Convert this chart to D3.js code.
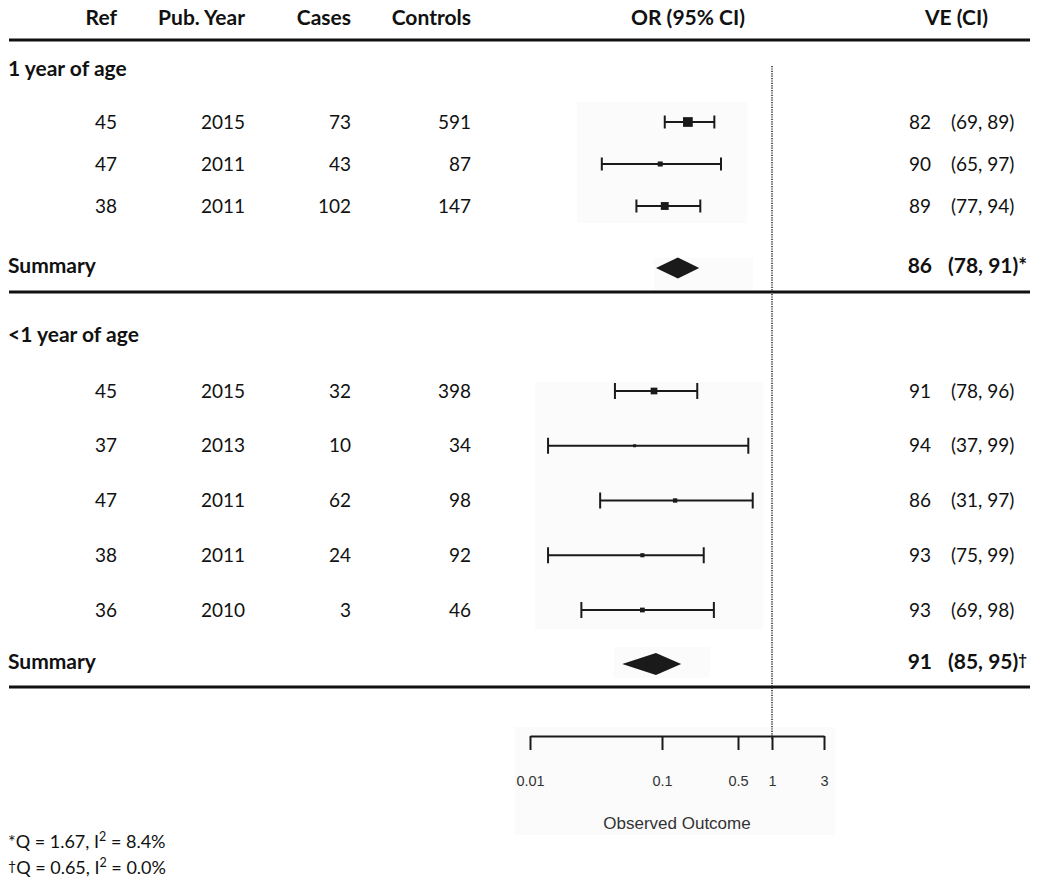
<!DOCTYPE html>
<html>
<head>
<meta charset="utf-8">
<script src="https://cdn.jsdelivr.net/npm/d3@7/dist/d3.min.js"></script>
<style>
  html, body { margin: 0; padding: 0; background: #ffffff; }
  svg { display: block; }
</style>
</head>
<body>
<svg id="chart" width="1050" height="887"></svg>
<script>
// ---------------- DATA ----------------
const headers = ["Ref", "Pub. Year", "Cases", "Controls", "OR (95% CI)", "VE (CI)"];
const groupLabels = ["1 year of age", "<1 year of age"];
const summaryLabel = "Summary";

// 1 year of age
const g1Ref = ["45", "47", "38"];
const g1Year = ["2015", "2011", "2011"];
const g1Cases = [73, 43, 102];
const g1Controls = [591, 87, 147];
const g1VE = [82, 90, 89];
const g1VELow = [69, 65, 77];
const g1VEHigh = [89, 97, 94];
const g1OR = [0.173, 0.097, 0.106];
const g1ORLow = [0.106, 0.035, 0.064];
const g1ORHigh = [0.303, 0.349, 0.225];
const g1Weight = [52, 14, 34];
const g1SumVE = [86, 78, 91];          // estimate, low, high
const g1SumOR = [0.14, 0.09, 0.22];    // estimate, low, high
const g1SumMark = "*";

// <1 year of age
const g2Ref = ["45", "37", "47", "38", "36"];
const g2Year = ["2015", "2013", "2011", "2011", "2010"];
const g2Cases = [32, 10, 62, 24, 3];
const g2Controls = [398, 34, 98, 92, 46];
const g2VE = [91, 94, 86, 93, 93];
const g2VELow = [78, 37, 31, 75, 69];
const g2VEHigh = [96, 99, 97, 99, 98];
const g2OR = [0.087, 0.062, 0.132, 0.071, 0.071];
const g2ORLow = [0.044, 0.0137, 0.034, 0.0137, 0.0245];
const g2ORHigh = [0.211, 0.617, 0.675, 0.242, 0.30];
const g2Weight = [40, 8, 17, 15, 20];
const g2SumVE = [91, 85, 95];
const g2SumOR = [0.09, 0.05, 0.15];
const g2SumMark = "\u2020";

// axis
const axisTicks = [0.01, 0.1, 0.5, 1, 3];
const axisTickLabels = ["0.01", "0.1", "0.5", "1", "3"];
const axisTitle = "Observed Outcome";

// footnotes
const footQ = ["1.67", "0.65"];
const footI2 = ["8.4%", "0.0%"];
const footMarks = ["*", "\u2020"];

// ---------------- LAYOUT ----------------
const svg = d3.select("#chart");
const FONT = 'Lato, "Open Sans", sans-serif';
const AXFONT = '"Liberation Sans", Arial, sans-serif';
const fs = 19;
const fsB = 21;

// x scale for OR (piecewise log, as in the reference axis)
const x = d3.scaleLog().domain(axisTicks).range([530, 662, 738, 772, 824]);

// column anchors (right-aligned)
const colX = { ref: 117, year: 245, cases: 351, controls: 471, ve: 931, ci: 951 };

// row scales
const y1 = d3.scaleLinear().domain([0, 2]).range([122, 206]);
const y2 = d3.scaleLinear().domain([0, 4]).range([391, 610]);
const y1Sum = 268, y2Sum = 664;

// size scales
const s1 = d3.scaleSqrt().domain([0, 100]).range([0, 13.5]);
const s2 = d3.scaleSqrt().domain([0, 100]).range([0, 10.6]);

// ---------- light panel backgrounds (pasted-plot look) ----------
const bgFill = "#fbfbfb";
[[577, 102, 170, 121], [654, 258, 99, 32], [535, 382, 228, 247], [614, 647, 96, 31], [515, 727, 320, 108]]
  .forEach(r => svg.append("rect").attr("x", r[0]).attr("y", r[1]).attr("width", r[2]).attr("height", r[3]).attr("fill", bgFill));

// ---------- headers ----------
const hdr = svg.append("g").attr("font-family", FONT).attr("font-weight", 700).attr("font-size", fsB).attr("fill", "#111");
const hdrBase = 25;
hdr.append("text").attr("x", colX.ref).attr("y", hdrBase).attr("text-anchor", "end").text(headers[0]);
hdr.append("text").attr("x", colX.year).attr("y", hdrBase).attr("text-anchor", "end").text(headers[1]);
hdr.append("text").attr("x", colX.cases).attr("y", hdrBase).attr("text-anchor", "end").text(headers[2]);
hdr.append("text").attr("x", colX.controls).attr("y", hdrBase).attr("text-anchor", "end").text(headers[3]);
hdr.append("text").attr("x", 688).attr("y", hdrBase).attr("text-anchor", "middle").text(headers[4]);
hdr.append("text").attr("x", 988).attr("y", hdrBase).attr("text-anchor", "end").text(headers[5]);

// ---------- horizontal rules ----------
[40, 292, 687].forEach(yy => svg.append("line").attr("x1", 9).attr("x2", 1030).attr("y1", yy).attr("y2", yy)
  .attr("stroke", "#111").attr("stroke-width", 3));

// ---------- group labels ----------
svg.append("text").attr("x", 8).attr("y", 76).attr("font-family", FONT).attr("font-weight", 700).attr("font-size", fsB).attr("fill", "#111").text(groupLabels[0]);
svg.append("text").attr("x", 8).attr("y", 342).attr("font-family", FONT).attr("font-weight", 700).attr("font-size", fsB).attr("fill", "#111").text(groupLabels[1]);

// ---------- reference line at OR = 1 ----------
svg.append("line").attr("x1", x(1)).attr("x2", x(1)).attr("y1", 66).attr("y2", 740)
  .attr("stroke", "#222").attr("stroke-width", 1.5).attr("stroke-dasharray", "1.2,1.2");

// ---------- row drawing ----------
function drawGroup(ref, year, cases, controls, ve, veL, veH, or, orL, orH, w, yS, sS, capH) {
  const idx = d3.range(ref.length);
  const g = svg.append("g");
  const tg = g.append("g").attr("font-family", FONT).attr("font-size", fs).attr("fill", "#111");
  idx.forEach(i => {
    const yy = yS(i) + 6.5;
    tg.append("text").attr("x", colX.ref).attr("y", yy).attr("text-anchor", "end").text(ref[i]);
    tg.append("text").attr("x", colX.year).attr("y", yy).attr("text-anchor", "end").text(year[i]);
    tg.append("text").attr("x", colX.cases).attr("y", yy).attr("text-anchor", "end").text(cases[i]);
    tg.append("text").attr("x", colX.controls).attr("y", yy).attr("text-anchor", "end").text(controls[i]);
    tg.append("text").attr("x", colX.ve).attr("y", yy).attr("text-anchor", "end").text(ve[i]);
    tg.append("text").attr("x", colX.ci).attr("y", yy).attr("text-anchor", "start").text("(" + veL[i] + ", " + veH[i] + ")");
  });
  const pg = g.append("g").attr("stroke", "#1a1a1a").attr("stroke-width", 2);
  pg.selectAll("line.ci").data(idx).join("line").attr("class", "ci")
    .attr("x1", i => x(orL[i])).attr("x2", i => x(orH[i])).attr("y1", i => yS(i)).attr("y2", i => yS(i));
  pg.selectAll("line.capl").data(idx).join("line").attr("class", "capl")
    .attr("x1", i => x(orL[i])).attr("x2", i => x(orL[i])).attr("y1", i => yS(i) - capH).attr("y2", i => yS(i) + capH);
  pg.selectAll("line.caph").data(idx).join("line").attr("class", "caph")
    .attr("x1", i => x(orH[i])).attr("x2", i => x(orH[i])).attr("y1", i => yS(i) - capH).attr("y2", i => yS(i) + capH);
  g.selectAll("rect.pt").data(idx).join("rect").attr("class", "pt")
    .attr("x", i => x(or[i]) - sS(w[i]) / 2).attr("y", i => yS(i) - sS(w[i]) / 2)
    .attr("width", i => sS(w[i])).attr("height", i => sS(w[i])).attr("fill", "#1a1a1a");
}

function drawSummary(yy, sumVE, sumOR, mark, halfH) {
  const t = svg.append("g").attr("font-family", FONT).attr("font-weight", 700).attr("font-size", fsB).attr("fill", "#111");
  const ty = yy + 5;
  t.append("text").attr("x", 8).attr("y", ty).text(summaryLabel);
  t.append("text").attr("x", colX.ve + 1).attr("y", ty).attr("text-anchor", "end").text(sumVE[0]);
  const ci = t.append("text").attr("x", colX.ci - 3).attr("y", ty).attr("text-anchor", "start").text("(" + sumVE[1] + ", " + sumVE[2] + ")");
  if (mark === "*") ci.append("tspan").text(mark);
  else ci.append("tspan").attr("font-size", 15).attr("dy", -4).text(mark);
  const pts = [[x(sumOR[1]), yy], [x(sumOR[0]), yy - halfH], [x(sumOR[2]), yy], [x(sumOR[0]), yy + halfH]];
  svg.append("path").attr("d", d3.line()(pts) + "Z").attr("fill", "#1a1a1a");
}

drawGroup(g1Ref, g1Year, g1Cases, g1Controls, g1VE, g1VELow, g1VEHigh, g1OR, g1ORLow, g1ORHigh, g1Weight, y1, s1, 6.5);
drawSummary(y1Sum, g1SumVE, g1SumOR, g1SumMark, 10.5);
drawGroup(g2Ref, g2Year, g2Cases, g2Controls, g2VE, g2VELow, g2VEHigh, g2OR, g2ORLow, g2ORHigh, g2Weight, y2, s2, 8);
drawSummary(y2Sum, g2SumVE, g2SumOR, g2SumMark, 11);

// ---------- axis ----------
const axis = d3.axisBottom(x).tickValues(axisTicks).tickSizeInner(14).tickSizeOuter(0).tickPadding(26)
  .tickFormat((d, i) => axisTickLabels[i]);
const ax = svg.append("g").attr("transform", "translate(0,736)").call(axis);
ax.select(".domain").attr("stroke", "#1a1a1a").attr("stroke-width", 2);
ax.selectAll(".tick line").attr("stroke", "#1a1a1a").attr("stroke-width", 2);
ax.selectAll(".tick text").attr("font-family", AXFONT).attr("font-size", 14.5).attr("fill", "#333");
svg.append("text").attr("x", 677).attr("y", 829).attr("text-anchor", "middle")
  .attr("font-family", AXFONT).attr("font-size", 17).attr("fill", "#333").text(axisTitle);

// ---------- footnotes ----------
const fn = svg.append("g").attr("font-family", FONT).attr("font-size", 18).attr("fill", "#111");
[0, 1].forEach(i => {
  const t = fn.append("text").attr("x", 8).attr("y", 848 + i * 26);
  if (i === 0) t.append("tspan").text(footMarks[i]);
  else t.append("tspan").attr("font-size", 14).attr("dy", -3).text(footMarks[i]);
  t.append("tspan").attr("dy", i === 0 ? 0 : 3).text("Q = " + footQ[i] + ", I");
  t.append("tspan").attr("font-size", 12.5).attr("dy", -7).text("2");
  t.append("tspan").attr("dy", 7).text(" = " + footI2[i]);
});
</script>
</body>
</html>
